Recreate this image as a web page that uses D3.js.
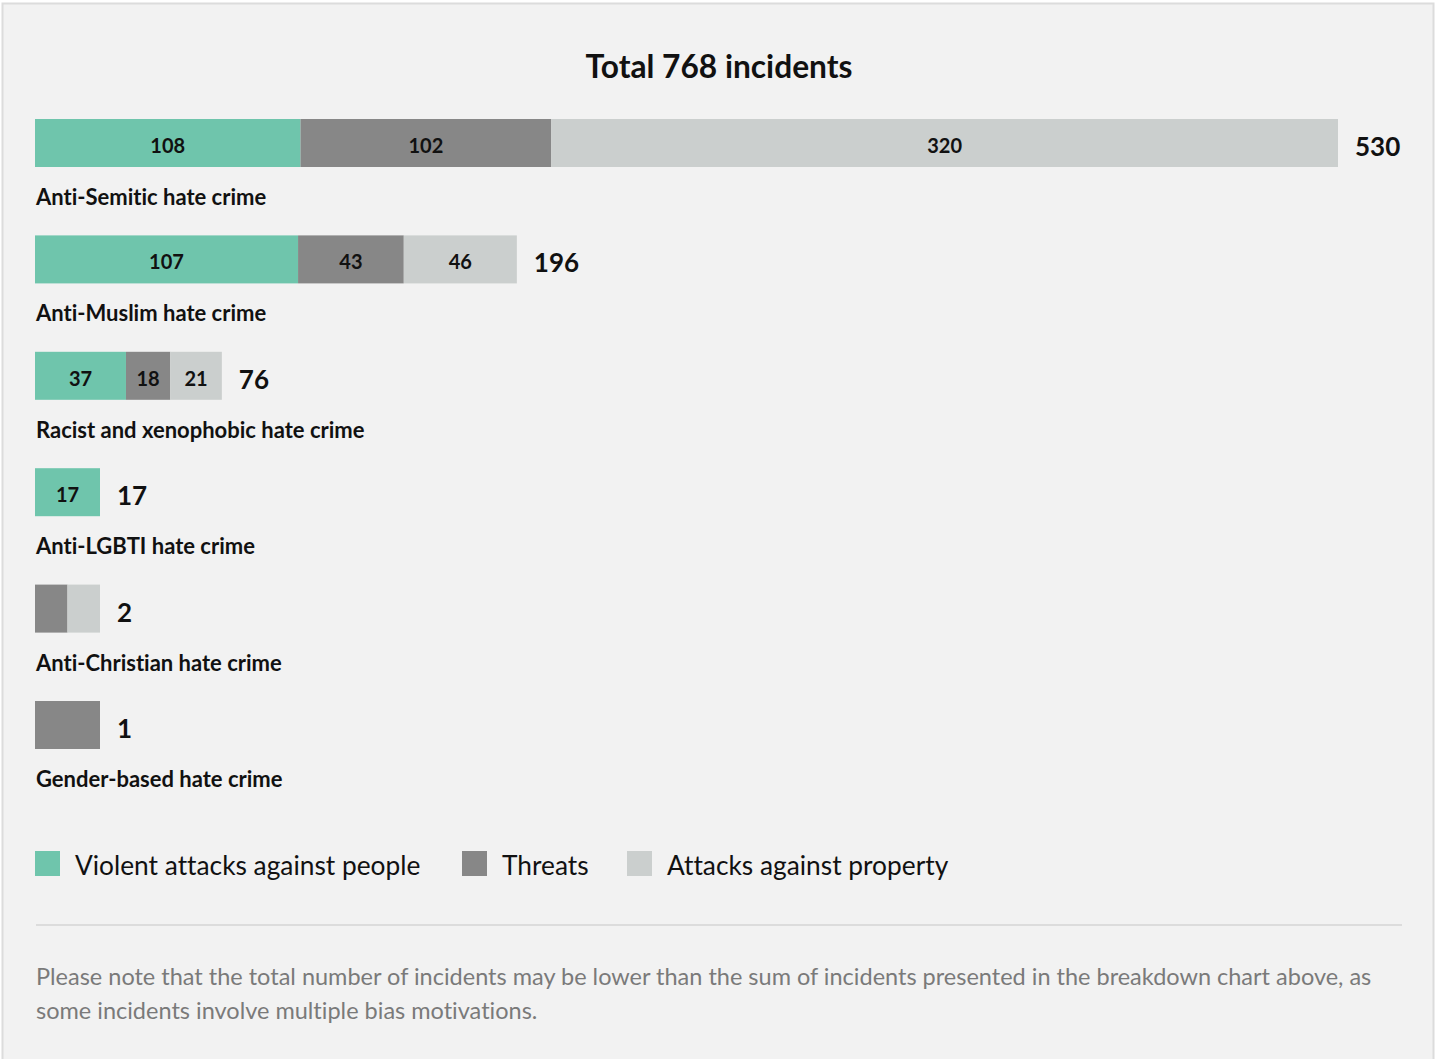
<!DOCTYPE html>
<html>
<head>
<meta charset="utf-8">
<script src="https://cdn.jsdelivr.net/npm/d3@7"></script>
<style>
  html, body { margin: 0; padding: 0; background: #fff; }
  body { width: 1435px; height: 1059px; overflow: hidden; }
  svg { display: block; font-family: Lato, "Open Sans", sans-serif; font-variant-ligatures: none; }
</style>
</head>
<body>
<svg id="chart" width="1435" height="1059"></svg>
<script>
const title = "Total 768 incidents";
const categories = [
  "Anti-Semitic hate crime",
  "Anti-Muslim hate crime",
  "Racist and xenophobic hate crime",
  "Anti-LGBTI hate crime",
  "Anti-Christian hate crime",
  "Gender-based hate crime"
];
const seriesNames = ["Violent attacks against people", "Threats", "Attacks against property"];
const violent  = [108, 107, 37, 17, 0, 0];
const threats  = [102, 43, 18, 0, 1, 1];
const property = [320, 46, 21, 0, 1, 0];
const totals   = [530, 196, 76, 17, 2, 1];
const note = ["Please note that the total number of incidents may be lower than the sum of incidents presented in the breakdown chart above, as",
              "some incidents involve multiple bias motivations."];

const colors = ["#6fc5ac", "#878787", "#cbcfce"];

const svg = d3.select("#chart");
// panel
svg.append("rect").attr("x", 2.5).attr("y", 3.5).attr("width", 1431).attr("height", 1060)
  .attr("fill", "#f2f2f2").attr("stroke", "#dcdcdc").attr("stroke-width", 2);

svg.append("text").attr("x", 719).attr("y", 78).attr("text-anchor", "middle")
  .attr("font-size", 31.7).attr("font-weight", 700).attr("fill", "#111").text(title);

const x0 = 35, minW = 65;
const x = d3.scaleLinear().domain([0, 530]).range([0, 1303]);
const y = d3.scaleBand().domain(categories).range([119, 119 + 116.4 * 6]).paddingInner(0).paddingOuter(0);
const barH = 48;

const series = [violent, threats, property];

categories.forEach((cat, i) => {
  const vals = series.map(s => s[i]);
  const sum = d3.sum(vals);
  const full = x(sum);
  const k = full < minW ? minW / full : 1;
  const top = y(cat);
  const g = svg.append("g");
  let cum = 0;
  vals.forEach((v, j) => {
    if (v <= 0) return;
    const xs = x0 + x(cum) * k;
    const w = x(v) * k;
    g.append("rect").attr("x", xs).attr("y", top).attr("width", w).attr("height", barH).attr("fill", colors[j]);
    if (v >= 10) {
      g.append("text").attr("x", xs + w / 2).attr("y", top + 34).attr("text-anchor", "middle")
        .attr("font-size", 20).attr("font-weight", 700).attr("fill", "#111").text(v);
    }
    cum += v;
  });
  g.append("text").attr("x", x0 + full * k + 17).attr("y", top + 37)
    .attr("font-size", 26).attr("font-weight", 700).attr("fill", "#111").text(totals[i]);
  g.append("text").attr("x", 36).attr("y", top + 86)
    .attr("font-size", 22).attr("font-weight", 700).attr("fill", "#111").text(cat);
});

// legend
const legX = [35, 462, 627];
seriesNames.forEach((n, j) => {
  svg.append("rect").attr("x", legX[j]).attr("y", 851).attr("width", 25).attr("height", 25).attr("fill", colors[j]);
  svg.append("text").attr("x", legX[j] + 40).attr("y", 875).attr("font-size", 26.3).attr("font-weight", 400)
    .attr("fill", "#111").text(n);
});

svg.append("line").attr("x1", 36).attr("x2", 1402).attr("y1", 925).attr("y2", 925)
  .attr("stroke", "#dcdcdc").attr("stroke-width", 2);

note.forEach((t, i) => {
  svg.append("text").attr("x", 36).attr("y", 985 + i * 34).attr("font-size", 23.5)
    .attr("fill", "#7a7a7a").text(t);
});
</script>
</body>
</html>
